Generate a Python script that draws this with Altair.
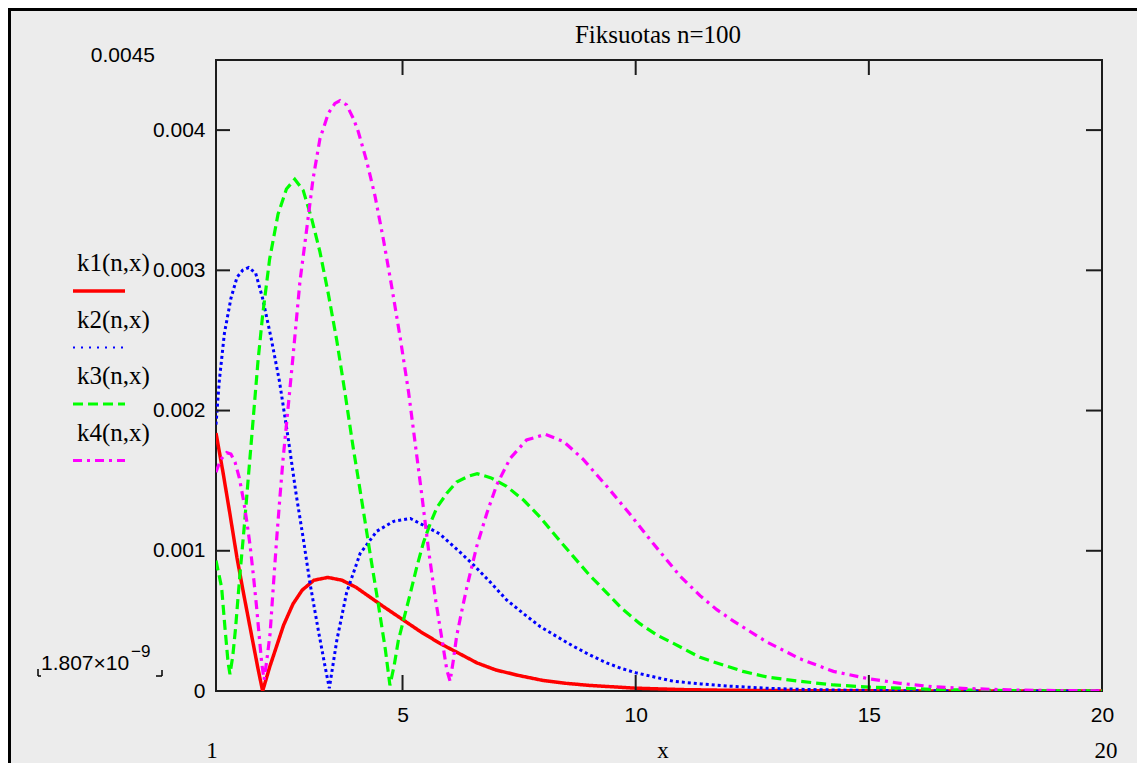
import altair as alt
import pandas as pd

# ---------------- data ----------------
title_text = "Fiksuotas n=100"
series_names = ["k1(n,x)", "k2(n,x)", "k3(n,x)", "k4(n,x)"]
series_colors = ["#FF0000", "#0000FF", "#00FF00", "#FF00FF"]

k1_x = [1.0, 1.15, 1.3, 1.45, 1.6, 1.75, 1.9, 2.0, 2.15, 2.3, 2.45, 2.65, 2.85, 3.1, 3.4,
        3.7, 4.0, 4.3, 4.6, 5.0, 5.4, 5.8, 6.2, 6.6, 7.0, 7.5, 8.0, 8.5, 9.0, 9.5, 10, 11,
        12, 13, 14, 15, 16, 17, 18, 19, 20]
k1_y = [0.00184, 0.00156, 0.00126, 0.00095, 0.00068, 0.00042, 0.00016, 0.0, 0.00017,
        0.00032, 0.00047, 0.00062, 0.00072, 0.00079, 0.00081, 0.00079, 0.00074, 0.00067,
        0.0006, 0.00051, 0.00042, 0.00034, 0.00027, 0.0002, 0.00015, 0.00011, 0.000076,
        0.000055, 0.00004, 0.00003, 0.00002, 0.00001, 0.000005, 0.000003, 0.000002,
        0.000001, 0, 0, 0, 0, 0]

k2_x = [1.0, 1.07, 1.18, 1.32, 1.45, 1.57, 1.7, 1.85, 2.0, 2.18, 2.36, 2.54, 2.72, 2.87,
        3.01, 3.19, 3.33, 3.43, 3.59, 3.8, 4.09, 4.45, 4.81, 5.17, 5.52, 5.8, 6.2, 6.52,
        6.9, 7.23, 7.6, 7.95, 8.3, 8.66, 9.0, 9.38, 9.7, 10.0, 10.4, 10.8, 11.4, 12.0,
        12.8, 13.5, 14.5, 15.5, 16.5, 17.5, 18.5, 20]
k2_y = [0.0019, 0.00221, 0.00255, 0.0028, 0.00295, 0.0030, 0.00302, 0.00298, 0.0028,
        0.00252, 0.00221, 0.00182, 0.0014, 0.00109, 0.00078, 0.00044, 0.00019, 0.00002,
        0.00036, 0.0007, 0.00098, 0.00114, 0.00121, 0.00123, 0.00117, 0.00112, 0.001,
        0.0009, 0.00077, 0.00065, 0.00055, 0.00046, 0.00039, 0.00032, 0.00026, 0.0002,
        0.00016, 0.00013, 0.0001, 0.00007, 0.00005, 0.000035, 0.00002, 0.000012,
        0.000006, 0.000003, 0.000001, 0, 0, 0]

k3_x = [1.0, 1.12, 1.19, 1.26, 1.30, 1.36, 1.42, 1.51, 1.6, 1.7, 1.8, 1.9, 2.0, 2.15,
        2.33, 2.51, 2.69, 2.87, 3.05, 3.23, 3.41, 3.59, 3.76, 3.94, 4.12, 4.30, 4.48, 4.63,
        4.73, 4.82, 4.91, 5.04, 5.17, 5.31, 5.45, 5.6, 5.74, 5.95, 6.16, 6.4, 6.6, 6.9,
        7.23, 7.6, 7.95, 8.3, 8.66, 9.0, 9.38, 9.7, 10.09, 10.45, 10.81, 11.38, 11.74,
        12.3, 12.81, 13.5, 14.24, 15.0, 15.67, 16.5, 17.5, 18.5, 20]
k3_y = [0.00093, 0.00074, 0.00046, 0.0002, 0.00012, 0.00025, 0.00045, 0.00082, 0.00115,
        0.00155, 0.00195, 0.00235, 0.00268, 0.00308, 0.0034, 0.00358, 0.00365, 0.00357,
        0.00337, 0.00313, 0.00283, 0.0025, 0.00214, 0.00174, 0.00137, 0.00099, 0.00062,
        0.0003, 0.00004, 0.00018, 0.00036, 0.00053, 0.0007, 0.00089, 0.00106, 0.0012,
        0.00131, 0.00141, 0.00149, 0.00153, 0.00155, 0.00152, 0.00146, 0.00136, 0.00124,
        0.0011, 0.00096, 0.00083, 0.0007, 0.00059, 0.00048, 0.0004, 0.00034, 0.00024,
        0.0002, 0.00014, 0.0001, 0.00007, 0.000043, 0.000028, 0.00002, 0.00001,
        0.000005, 0.000002, 0]

k4_x = [1.0, 1.1, 1.23, 1.32, 1.41, 1.5, 1.59, 1.66, 1.73, 1.8, 1.87, 1.93, 1.98, 2.03,
        2.09, 2.16, 2.23, 2.30, 2.37, 2.44, 2.54, 2.65, 2.80, 2.94, 3.08, 3.23, 3.41, 3.55,
        3.66, 3.8, 3.95, 4.05, 4.23, 4.41, 4.59, 4.77, 4.95, 5.13, 5.27, 5.42, 5.56, 5.70,
        5.85, 5.95, 6.02, 6.09, 6.16, 6.27, 6.38, 6.59, 6.81, 7.02, 7.31, 7.66, 8.06, 8.45,
        8.88, 9.38, 9.88, 10.38, 10.95, 11.38, 11.74, 12.09, 12.81, 13.52, 14.24, 14.95,
        15.67, 16.38, 17.1, 18.0, 19.0, 20.0]
k4_y = [0.00156, 0.00165, 0.0017, 0.00169, 0.00163, 0.00152, 0.00136, 0.00121, 0.00104,
        0.00083, 0.0006, 0.00038, 0.0002, 0.00008, 0.00022, 0.00041, 0.00075, 0.00108,
        0.00138, 0.00166, 0.002, 0.00238, 0.00292, 0.00328, 0.00365, 0.00394, 0.00412,
        0.00419, 0.00421, 0.00418, 0.00408, 0.00399, 0.00378, 0.00353, 0.00322, 0.00288,
        0.00252, 0.00213, 0.00177, 0.00138, 0.001, 0.00067, 0.00036, 0.00015, 0.00007,
        0.00022, 0.00039, 0.00057, 0.00074, 0.00103, 0.00127, 0.00147, 0.00166, 0.00179,
        0.00183, 0.00178, 0.00165, 0.00146, 0.00126, 0.00105, 0.00082, 0.00068, 0.00058,
        0.0005, 0.00035, 0.00023, 0.00014, 0.00009, 0.000055, 0.00003, 0.000018,
        0.000008, 0.000003, 0.000001]

x_tick_vals = [5, 10, 15]
x_label_vals = [5, 10, 15, 20]
y_tick_vals = [0.001, 0.002, 0.003, 0.004]
y_label_vals = [0, 0.001, 0.002, 0.003, 0.004]
x_domain = [1, 20]
y_domain = [0, 0.0045]
y_top_label = "0.0045"
y_min_label = "1.807×10"
y_min_exp = "−9"
x_range_labels = ["1", "x", "20"]

# ---------------- styling ----------------
W, H = 886, 631
SANS = "Liberation Sans"
SERIF = "Liberation Serif"
FRAME = "#1c1c1c"
series_dash = [[1, 0], [3, 3], [10, 5], [9, 5, 3, 5]]
series_width = [3.5, 3, 3.2, 3.2]

xs = alt.Scale(domain=x_domain, nice=False, zero=False)
ys = alt.Scale(domain=y_domain, nice=False, zero=False)

x_axis = alt.Axis(values=x_label_vals, format="d", title=None, grid=False, domain=False,
                  ticks=False, labelPadding=13, labelFlush=False, labelFont=SANS,
                  labelFontSize=21, labelColor="black")
y_axis = alt.Axis(values=y_label_vals, title=None, grid=False, domain=False, ticks=False,
                  labelPadding=11, labelFlush=False, labelFont=SANS, labelFontSize=21,
                  labelColor="black",
                  labelExpr="datum.value == 0 ? '0' : format(datum.value, '.3f')")


def X(field="x"):
    return alt.X(f"{field}:Q", scale=xs, axis=x_axis)


def Y(field="y"):
    return alt.Y(f"{field}:Q", scale=ys, axis=y_axis)


dummy = pd.DataFrame({"d": [0]})
layers = []

# curves
all_x = [k1_x, k2_x, k3_x, k4_x]
all_y = [k1_y, k2_y, k3_y, k4_y]
for i in range(4):
    df = pd.DataFrame({"x": all_x[i], "y": all_y[i]})
    layers.append(
        alt.Chart(df).mark_line(color=series_colors[i], strokeDash=series_dash[i],
                                strokeWidth=series_width[i], clip=True)
        .encode(x=X(), y=Y())
    )

# inward ticks
ytdf = pd.DataFrame({"y": y_tick_vals})
xtdf = pd.DataFrame({"x": x_tick_vals})
layers.append(alt.Chart(ytdf).mark_rule(color=FRAME, strokeWidth=2)
              .encode(y=Y(), x=alt.value(0), x2=alt.value(14)))
layers.append(alt.Chart(ytdf).mark_rule(color=FRAME, strokeWidth=2)
              .encode(y=Y(), x=alt.value(W - 16), x2=alt.value(W)))
layers.append(alt.Chart(xtdf).mark_rule(color=FRAME, strokeWidth=2)
              .encode(x=X(), y=alt.value(H - 16), y2=alt.value(H)))
layers.append(alt.Chart(xtdf).mark_rule(color=FRAME, strokeWidth=2)
              .encode(x=X(), y=alt.value(0), y2=alt.value(15)))

# title
layers.append(alt.Chart(dummy).mark_text(font=SERIF, fontSize=25, align="center",
                                         baseline="alphabetic", color="black")
              .encode(x=alt.value(W / 2 - 1), y=alt.value(-17), text=alt.value(title_text)))

# y extra labels
layers.append(alt.Chart(dummy).mark_text(font=SANS, fontSize=21, align="right",
                                         baseline="middle", color="black")
              .encode(x=alt.value(-61), y=alt.value(-4), text=alt.value(y_top_label)))
layers.append(alt.Chart(dummy).mark_text(font=SANS, fontSize=21, align="left",
                                         baseline="middle", color="black")
              .encode(x=alt.value(-175), y=alt.value(604), text=alt.value(y_min_label)))
layers.append(alt.Chart(dummy).mark_text(font=SANS, fontSize=17, align="left",
                                         baseline="middle", color="black")
              .encode(x=alt.value(-85), y=alt.value(592), text=alt.value(y_min_exp)))
# small corner brackets around the min label
for (xa, xb, ya, yb) in [(-178, -178, 609, 616), (-178, -175, 616, 616),
                         (-54, -54, 610, 616), (-60, -54, 616, 616)]:
    layers.append(alt.Chart(dummy).mark_rule(color="black", strokeWidth=1.5)
                  .encode(x=alt.value(xa), x2=alt.value(xb), y=alt.value(ya), y2=alt.value(yb)))

# x range labels (serif)
for txt, xp in zip(x_range_labels, [-4, W / 2 + 4, W + 4]):
    layers.append(alt.Chart(dummy).mark_text(font=SERIF, fontSize=23, align="center",
                                             baseline="middle", color="black")
                  .encode(x=alt.value(xp), y=alt.value(691), text=alt.value(txt)))

# legend
for i, name in enumerate(series_names):
    layers.append(alt.Chart(dummy).mark_text(font=SERIF, fontSize=25, align="left",
                                             baseline="middle", color="black")
                  .encode(x=alt.value(-139), y=alt.value(203 + 56.5 * i), text=alt.value(name)))
    layers.append(alt.Chart(dummy).mark_rule(color=series_colors[i],
                                             strokeDash=[2, 6] if i == 1 else series_dash[i],
                                             strokeWidth=2 if i == 1 else series_width[i])
                  .encode(x=alt.value(-143), x2=alt.value(-91),
                          y=alt.value(231 + 56.5 * i)))

# outer window border (top and left)
layers.append(alt.Chart(dummy).mark_rule(color="black", strokeWidth=3)
              .encode(x=alt.value(-210), x2=alt.value(W + 40), y=alt.value(-50.5)))
layers.append(alt.Chart(dummy).mark_rule(color="black", strokeWidth=3)
              .encode(x=alt.value(-206.5), y=alt.value(-52), y2=alt.value(H + 80)))

chart = (
    alt.layer(*layers)
    .properties(width=W, height=H, background="#ECECEC",
                padding={"left": 208, "top": 52, "right": 35, "bottom": 72},
                autosize=alt.AutoSizeParams(type="none"))
    .configure_view(stroke=FRAME, strokeWidth=2)
)

chart.save("out.html", embed_options={"renderer": "svg", "actions": False})
